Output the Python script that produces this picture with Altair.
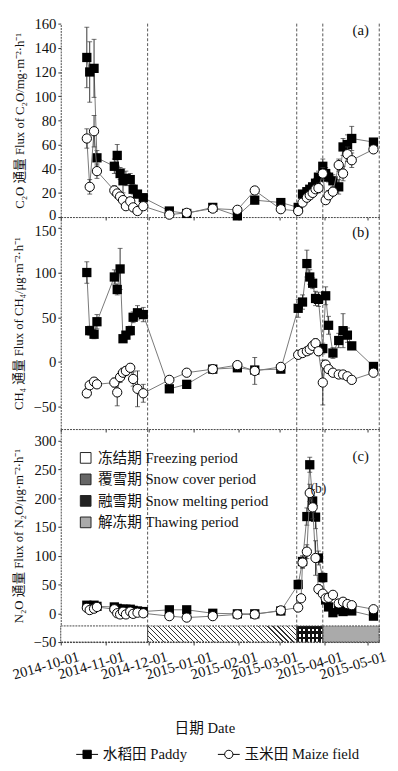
import altair as alt
import pandas as pd

FONT = "Liberation Serif, Noto Sans CJK SC"

# ---------------- data ----------------
dates = ["2014-10-19", "2014-10-21", "2014-10-24", "2014-10-26",
         "2014-11-07", "2014-11-09", "2014-11-11", "2014-11-13", "2014-11-15",
         "2014-11-18", "2014-11-20", "2014-11-23", "2014-11-27",
         "2014-12-15", "2014-12-27", "2015-01-14", "2015-01-31", "2015-02-12", "2015-03-02",
         "2015-03-14", "2015-03-16", "2015-03-17", "2015-03-20", "2015-03-22", "2015-03-24",
         "2015-03-26", "2015-03-28", "2015-03-31",
         "2015-04-02", "2015-04-04", "2015-04-07", "2015-04-11", "2015-04-14", "2015-04-17",
         "2015-04-20", "2015-05-05"]

series_names = ["水稻田 Paddy", "玉米田 Maize field"]

# panel (a) C2O flux, mg m-2 h-1
paddy_a = [132, 120, 123, 49, 42, 51, 36, 30, 32, 31, 23, 19, 16, 5, 3, 8, 1, 14, 12,
           8, None, 19, 21, 23, 25, 28, 33, 42, 36, 33, 30, 25, 58, 60, 65, 62]
paddy_a_err = [25, 25, 24, 6, 6, 9, 5, 10, 6, 5, 4, 3, 3, 2, 1, 2, 1, 3, 2,
               2, None, 3, 3, 3, 3, 4, 5, 6, 5, 4, 5, 6, 7, 8, 10, 3]
maize_a = [65, 25, 71, 38, 22, 19.5, 17, 14, 9, 13, 8, 5, 9, 2, 3.5, 7, 6, 22, 6.5,
           5, None, 12, 16, 18, 20, 23, 24, 36, 14, 18, 21, 43, 36, 52, 47, 56]
maize_a_err = [8, 6, 13, 6, 4, 4, 3, 3, 2, 3, 2, 2, 2, 1, 1, 2, 1, 3, 2,
               1, None, 2, 2, 3, 3, 3, 4, 5, 3, 4, 3, 5, 6, 6, 6, 3]

# panel (b) CH4 flux, ug m-2 h-1
paddy_b = [100, 35, 31, 45, 95, 81, 104, 26, 30, 35, 50, 55, 53, -30, -25, -8, -6.5, -9, -8,
           60, None, 67, 110, 95, 88, 71, 70, 15, 74, 41, 10, 24, 35, 30, 18, -5]
paddy_b_err = [12, 5, 5, 8, 8, 6, 23, 4, 4, 5, 6, 8, 8, 4, 4, 3, 3, 3, 3,
               10, None, 8, 15, 8, 6, 8, 8, 6, 10, 10, 6, 8, 19, 8, 4, 3]
maize_b = [-35, -26, -22, -25, -23, -34, -17, -12, -10, -6.5, -19, -30, -35, -20, -12, -8, -3.5, -10, -5.5,
           8, None, 10, 12, 14, 18, 21, 12, -23, -3, -8, -12, -14, -14, -16, -20, -12]
maize_b_err = [5, 4, 4, 4, 5, 15, 6, 5, 5, 4, 8, 20, 10, 4, 3, 3, 3, 15, 3,
               4, None, 4, 4, 5, 5, 5, 5, 25, 5, 4, 4, 4, 4, 4, 4, 3]

# panel (c) N2O flux, ug m-2 h-1
paddy_c = [14, 11, 14, 12, 11, 8.5, 7, 7, 7, 7, 5, 4, 3, 6, 6, 0, -1, -1, 4,
           50, None, 90, 168, 258, 195, 167, 96, 62, 23, 11, 1, 6, 3, 6, 4, -5]
paddy_c_err = [4, 3, 3, 3, 3, 3, 2, 2, 2, 2, 2, 2, 2, 2, 2, 2, 2, 2, 2,
               8, None, 10, 15, 13, 20, 20, 12, 8, 5, 3, 2, 2, 2, 2, 2, 2]
maize_c = [9.5, 5.6, 8, 11, 7, 0, -2, 2.7, -2, 3, -1, 1, 0, -5, -7.5, -5, -2, -2, 5,
           10, 26, 88, 107, 209, 184, 96, 42, 34, 26, 27, 32, 17, 20, 16, 14, 7]
maize_c_err = [3, 2, 3, 3, 2, 2, 2, 2, 2, 2, 2, 2, 2, 2, 2, 2, 2, 2, 2,
               3, 4, 10, 12, 15, 20, 30, 8, 5, 4, 4, 4, 3, 3, 3, 3, 2]

# periods
period_names = ["冻结期 Freezing period", "覆雪期 Snow cover period",
                "融雪期 Snow melting period", "解冻期 Thawing period"]
period_start = ["2014-10-01", "2014-11-30", "2015-03-13", "2015-03-31"]
period_end = ["2014-11-30", "2015-03-13", "2015-03-31", "2015-05-09"]
period_colors = ["white", "#666666", "#222222", "#aaaaaa"]

boundary_dates = ["2014-11-30", "2015-03-13", "2015-03-31", "2015-05-09"]

tick_months = [(2014, 10), (2014, 11), (2014, 12), (2015, 1), (2015, 2), (2015, 3), (2015, 4), (2015, 5)]

# stray annotation near the N2O peak
stray_date = ["2015-03-28"]
stray_value = [215]
stray_text = ["(b)"]

# ---------------- helpers ----------------
def frame(pv, pe, mv, me):
    rows = []
    for name, vals, errs in ((series_names[0], pv, pe), (series_names[1], mv, me)):
        for d, v, e in zip(dates, vals, errs):
            if v is None:
                continue
            rows.append({"date": d, "series": name, "v": v, "lo": v - e, "hi": v + e})
    return pd.DataFrame(rows)


X_DOMAIN = [alt.DateTime(year=2014, month=10, date=1, utc=True),
            alt.DateTime(year=2015, month=5, date=9, utc=True)]
TICKS = [alt.DateTime(year=y, month=m, date=1, utc=True) for y, m in tick_months]


def xenc(field, bottom):
    if bottom:
        ax = alt.Axis(values=TICKS, format="%Y-%m-%d", labelAngle=-16, labelAlign="right",
                      labelBaseline="top", labelOffset=16, labelPadding=4, title="日期 Date",
                      titlePadding=40, titleFontSize=15, titleX=147, labelOverlap=False)
    else:
        ax = alt.Axis(values=TICKS, labels=False, title=None)
    return alt.X(f"{field}:T", scale=alt.Scale(type="utc", domain=X_DOMAIN), axis=ax)


def yaxis(yticks, ytitle, edge_shift=None):
    kw = {}
    if edge_shift is not None:
        test, shift = edge_shift
        kw["labelOffset"] = {"condition": {"test": test, "value": shift}, "value": 0}
    return alt.Axis(values=yticks, title=ytitle, titlePadding=8, labelOverlap=False, **kw)


def panel(df, domain, yticks, ytitle, height, tag, tag_y, bottom=False,
          extra_below=None, extra_above=None, edge_shift=None):
    ax = yaxis(yticks, ytitle, edge_shift)
    ysc = alt.Scale(domain=domain, nice=False, zero=False)
    y = alt.Y("v:Q", scale=ysc, axis=ax)
    base = alt.Chart(df)
    layers = []
    if extra_below is not None:
        layers += extra_below
    rules = alt.Chart(pd.DataFrame({"date": boundary_dates})).mark_rule(
        color="#555", strokeWidth=1, strokeDash=[3, 2]).encode(x=xenc("date", bottom))
    layers.append(rules)
    for name, mk in ((series_names[0], "p"), (series_names[1], "m")):
        sub = base.transform_filter(alt.datum.series == name)
        layers.append(sub.mark_line(color="#777", strokeWidth=1).encode(x=xenc("date", bottom), y=y))
        layers.append(sub.mark_rule(color="#333", strokeWidth=1).encode(
            x=xenc("date", bottom), y=alt.Y("lo:Q", scale=ysc, axis=ax), y2="hi:Q"))
        layers.append(sub.mark_tick(color="#333", thickness=1, size=5, orient="horizontal").encode(
            x=xenc("date", bottom), y=alt.Y("hi:Q", scale=ysc, axis=ax)))
        layers.append(sub.mark_tick(color="#333", thickness=1, size=5, orient="horizontal").encode(
            x=xenc("date", bottom), y=alt.Y("lo:Q", scale=ysc, axis=ax)))
        if mk == "p":
            layers.append(sub.mark_point(shape="square", filled=True, color="black", size=90,
                                         opacity=1).encode(x=xenc("date", bottom), y=y))
        else:
            layers.append(sub.mark_point(shape="circle", filled=True, fill="white", stroke="black",
                                         strokeWidth=1, size=90, opacity=1).encode(
                x=xenc("date", bottom), y=y))
    if extra_above is not None:
        layers += extra_above
    tag_layer = alt.Chart(pd.DataFrame({"t": [tag]})).mark_text(
        font=FONT, fontSize=15, color="#111").encode(
        x=alt.value(307), y=alt.value(tag_y), text="t:N")
    layers.append(tag_layer)
    return alt.layer(*layers).properties(width=326, height=height)


df_a = frame(paddy_a, paddy_a_err, maize_a, maize_a_err)
df_b = frame(paddy_b, paddy_b_err, maize_b, maize_b_err)
df_c = frame(paddy_c, paddy_c_err, maize_c, maize_c_err)

periods = pd.DataFrame({"period": period_names, "start": period_start, "end": period_end})


def stripes(n, frac, ink, bg, x1, y1, x2, y2):
    stops = []
    for i in range(n):
        a = i / n
        b = (i + frac) / n
        c = (i + 1) / n
        stops += [alt.GradientStop(offset=a, color=ink), alt.GradientStop(offset=b, color=ink),
                  alt.GradientStop(offset=b, color=bg), alt.GradientStop(offset=c, color=bg)]
    return alt.LinearGradient(gradient="linear", stops=stops, x1=x1, y1=y1, x2=x2, y2=y2)


C_TICKS = [-50, 0, 50, 100, 150, 200, 250, 300]
C_TITLE = "N₂O 通量 Flux of N₂O/μg·m⁻²·h⁻¹"
C_DOMAIN = [-50, 320]
C_SCALE = alt.Scale(domain=C_DOMAIN, nice=False, zero=False)
box_y = alt.Y(datum=-22, scale=C_SCALE, axis=yaxis(C_TICKS, C_TITLE))
box_y2 = alt.Y2(datum=-50)

period_base = alt.Chart(periods).mark_rect().encode(
    x=xenc("start", True), x2="end:T", y=box_y, y2=box_y2,
    color=alt.Color("period:N", scale=alt.Scale(domain=period_names, range=period_colors),
                    legend=alt.Legend(orient="none", legendX=18, legendY=437, title=None,
                                      symbolType="square", symbolSize=120,
                                      symbolStrokeColor="#222", symbolStrokeWidth=1,
                                      labelFont=FONT, labelFontSize=15, labelColor="#111",
                                      rowPadding=6, labelOffset=5, labelLimit=0)))
snow = alt.Chart(periods).transform_filter(alt.datum.period == period_names[1]).mark_rect(
    fill=stripes(34, 0.22, "#333333", "white", -0.12, 0.121, 1, 0)).encode(
    x=xenc("start", True), x2="end:T", y=box_y, y2=box_y2)
melt_base = alt.Chart(periods).transform_filter(alt.datum.period == period_names[2]).mark_rect(
    fill="white").encode(x=xenc("start", True), x2="end:T", y=box_y, y2=box_y2)
melt_h = alt.Chart(periods).transform_filter(alt.datum.period == period_names[2]).mark_rect(
    fill=stripes(3, 0.5, "#111111", "rgba(0,0,0,0)", 0, 0, 0, 1)).encode(
    x=xenc("start", True), x2="end:T", y=box_y, y2=box_y2)
melt_v = alt.Chart(periods).transform_filter(alt.datum.period == period_names[2]).mark_rect(
    fill=stripes(6, 0.5, "#111111", "rgba(0,0,0,0)", 0, 0, 1, 0)).encode(
    x=xenc("start", True), x2="end:T", y=box_y, y2=box_y2)
borders = alt.Chart(periods).mark_rect(fillOpacity=0, stroke="#444", strokeWidth=1,
                                       strokeDash=[2, 1]).encode(
    x=xenc("start", True), x2="end:T", y=box_y, y2=box_y2)

path_paddy = "M-1,0H1M-0.38,-0.38H0.38V0.38H-0.38Z"
path_maize = ("M-1,0H-0.38M0.38,0H1M0.38,0A0.38,0.38,0,1,1,-0.38,0"
              "A0.38,0.38,0,1,1,0.38,0Z")
series_legend = alt.Legend(orient="none", legendX=15, legendY=736, title=None, direction="horizontal",
                           symbolSize=500, symbolOpacity=1, symbolStrokeColor="black",
                           symbolStrokeWidth=1, labelFont=FONT, labelFontSize=15,
                           labelColor="#111", columnPadding=28, labelOffset=4, labelLimit=0)
legend_layer = alt.Chart(df_c).mark_point(size=1, strokeWidth=1, filled=True).encode(
    x=xenc("date", True),
    y=alt.Y("v:Q", scale=C_SCALE, axis=yaxis(C_TICKS, C_TITLE)),
    shape=alt.Shape("series:N", scale=alt.Scale(domain=series_names, range=[path_paddy, path_maize]),
                    legend=series_legend),
    fill=alt.Fill("series:N", scale=alt.Scale(domain=series_names, range=["black", "white"]),
                  legend=series_legend),
    stroke=alt.Stroke("series:N", scale=alt.Scale(domain=series_names, range=["black", "black"]),
                      legend=series_legend))

stray = alt.Chart(pd.DataFrame({"date": stray_date, "v": stray_value, "t": stray_text})).mark_text(
    font=FONT, fontSize=14, color="#222").encode(
    x=xenc("date", True),
    y=alt.Y("v:Q", scale=C_SCALE, axis=yaxis(C_TICKS, C_TITLE)),
    text="t:N")

chart_a = panel(df_a, [0, 160], [0, 20, 40, 60, 80, 100, 120, 140, 160],
                "C₂O 通量 Flux of C₂O/mg·m⁻²·h⁻¹", 198, "(a)", 7,
                edge_shift=("datum.value == 0", -3))
chart_b = panel(df_b, [-75, 162], [-50, 0, 50, 100, 150],
                "CH₄ 通量 Flux of CH₄/μg·m⁻²·h⁻¹", 217, "(b)", 15,
                edge_shift=("datum.value == 150", 3))
chart_c = panel(df_c, C_DOMAIN, C_TICKS, C_TITLE, 218, "(c)", 28, bottom=True,
                extra_below=[period_base, snow, melt_base, melt_h, melt_v, borders, legend_layer],
                extra_above=[stray])

chart = alt.vconcat(chart_a, chart_b, chart_c, spacing=0, bounds="flush").properties(
    padding={"left": 2, "top": 0, "right": 2, "bottom": 0}
).configure(font=FONT).configure_view(stroke=None).configure_axis(
    labelFont=FONT, labelFontSize=15, labelColor="#111", titleFont=FONT, titleFontSize=13,
    titleFontWeight="normal", titleColor="#111", domainColor="#444", domainDash=[2, 1],
    tickColor="#333", tickSize=3, grid=False, labelPadding=2
)

chart.save("out.html", embed_options={"renderer": "svg", "actions": False})
